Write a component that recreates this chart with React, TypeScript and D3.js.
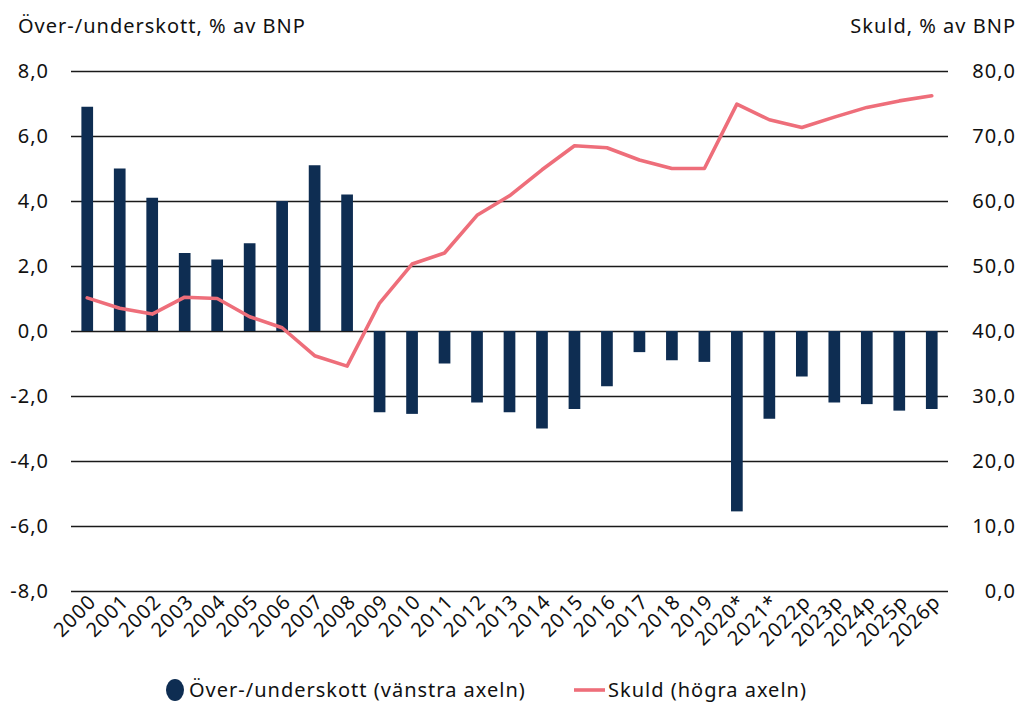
import { useEffect, useRef } from "react";
import * as d3 from "d3";

const YEARS = [
    "2000", "2001", "2002", "2003", "2004", "2005", "2006", "2007", "2008", "2009",
    "2010", "2011", "2012", "2013", "2014", "2015", "2016", "2017", "2018", "2019",
    "2020*", "2021*", "2022p", "2023p", "2024p", "2025p", "2026p",
];

// Över-/underskott, % av BNP (vänstra axeln)
const BALANCE = [
    6.9, 5.0, 4.1, 2.4, 2.2, 2.7, 4.0, 5.1, 4.2, -2.5,
    -2.55, -1.0, -2.2, -2.5, -3.0, -2.4, -1.7, -0.65, -0.9, -0.95,
    -5.55, -2.7, -1.4, -2.2, -2.25, -2.45, -2.4,
];

// Skuld, % av BNP (högra axeln)
const DEBT = [
    45.1, 43.5, 42.6, 45.2, 45.0, 42.2, 40.5, 36.2, 34.6, 44.3,
    50.3, 52.0, 57.8, 60.8, 64.8, 68.5, 68.2, 66.3, 65.0, 65.0,
    74.9, 72.5, 71.3, 72.9, 74.4, 75.4, 76.2,
];

const LEFT_TICKS = [-8, -6, -4, -2, 0, 2, 4, 6, 8];
const RIGHT_TICKS = [0, 10, 20, 30, 40, 50, 60, 70, 80];

const W = 1020;
const H = 702;
const M = { top: 71, right: 72, bottom: 111, left: 71 };
const NAVY = "#0e2d52";
const PINK = "#ee6e7a";
const FONT = "'Noto Sans', 'Open Sans', sans-serif";
const FS = 20;

// swedish decimal comma, plain hyphen for negatives
const fmt = (v: number) => v.toFixed(1).replace(".", ",");

export default function App() {
    const ref = useRef<SVGSVGElement>(null);

    useEffect(() => {
        const innerW = W - M.left - M.right;
        const innerH = H - M.top - M.bottom;

        const x = d3.scaleBand<string>().domain(YEARS).range([0, innerW]).paddingInner(0.64).paddingOuter(0.32);
        const yL = d3.scaleLinear().domain([-8, 8]).range([innerH, 0]);
        const yR = d3.scaleLinear().domain([0, 80]).range([innerH, 0]);

        const svg = d3.select(ref.current);
        svg.selectAll("*").remove();
        svg.style("font-family", FONT).style("letter-spacing", "1px");
        const g = svg.append("g").attr("transform", `translate(${M.left},${M.top})`);

        // gridlines follow the left axis ticks
        g.append("g")
            .selectAll("line")
            .data(LEFT_TICKS)
            .join("line")
            .attr("x1", 0)
            .attr("x2", innerW)
            .attr("y1", (d) => Math.round(yL(d)) + 0.5)
            .attr("y2", (d) => Math.round(yL(d)) + 0.5)
            .attr("stroke", "#1a1a1a")
            .attr("stroke-width", 1.3);

        g.append("g")
            .selectAll("text")
            .data(LEFT_TICKS)
            .join("text")
            .attr("x", 49 - M.left)
            .attr("y", (d) => yL(d))
            .attr("dy", "0.35em")
            .attr("text-anchor", "end")
            .attr("font-size", FS)
            .attr("fill", "#111")
            .text((d) => fmt(d));

        g.append("g")
            .selectAll("text")
            .data(RIGHT_TICKS)
            .join("text")
            .attr("x", 1016 - M.left)
            .attr("y", (d) => yR(d))
            .attr("dy", "0.35em")
            .attr("text-anchor", "end")
            .attr("font-size", FS)
            .attr("fill", "#111")
            .text((d) => fmt(d));

        // bars
        g.append("g")
            .selectAll("rect")
            .data(BALANCE)
            .join("rect")
            .attr("x", (_, i) => x(YEARS[i])!)
            .attr("width", x.bandwidth())
            .attr("y", (d) => yL(Math.max(0, d)))
            .attr("height", (d) => Math.abs(yL(d) - yL(0)))
            .attr("fill", NAVY);

        // debt line
        const line = d3
            .line<number>()
            .x((_, i) => x(YEARS[i])! + x.bandwidth() / 2)
            .y((d) => yR(d));
        g.append("path")
            .datum(DEBT)
            .attr("d", line)
            .attr("fill", "none")
            .attr("stroke", PINK)
            .attr("stroke-width", 3.6)
            .attr("stroke-linejoin", "round")
            .attr("stroke-linecap", "round");

        // rotated year labels
        g.append("g")
            .selectAll("text")
            .data(YEARS)
            .join("text")
            .attr("transform", (d) => `translate(${x(d)! + x.bandwidth() / 2 + 10},${innerH + 12}) rotate(-45)`)
            .attr("text-anchor", "end")
            .attr("font-size", FS)
            .attr("fill", "#111")
            .text((d) => d);

        // axis titles
        svg.append("text")
            .attr("x", 18)
            .attr("y", 33)
            .attr("font-size", FS)
            .attr("fill", "#111")
            .text("Över-/underskott, % av BNP");
        svg.append("text")
            .attr("x", 1016)
            .attr("y", 33)
            .attr("text-anchor", "end")
            .attr("font-size", FS)
            .attr("fill", "#111")
            .text("Skuld, % av BNP");

        // legend
        const lg = svg.append("g").attr("transform", "translate(0,690)");
        lg.append("ellipse").attr("cx", 175).attr("cy", 0).attr("rx", 9).attr("ry", 11).attr("fill", NAVY);
        lg.append("text")
            .attr("x", 189)
            .attr("y", 0)
            .attr("dy", "0.35em")
            .attr("font-size", FS)
            .attr("fill", "#111")
            .text("Över-/underskott (vänstra axeln)");
        lg.append("line").attr("x1", 574).attr("x2", 605).attr("y1", 0).attr("y2", 0).attr("stroke", PINK).attr("stroke-width", 3.6);
        lg.append("text")
            .attr("x", 608)
            .attr("y", 0)
            .attr("dy", "0.35em")
            .attr("font-size", FS)
            .attr("fill", "#111")
            .text("Skuld (högra axeln)");
    }, []);

    return (
        <svg
            ref={ref}
            width={W}
            height={H}
            style={{ position: "absolute", left: 0, top: 0, background: "#fff" }}
        />
    );
}
